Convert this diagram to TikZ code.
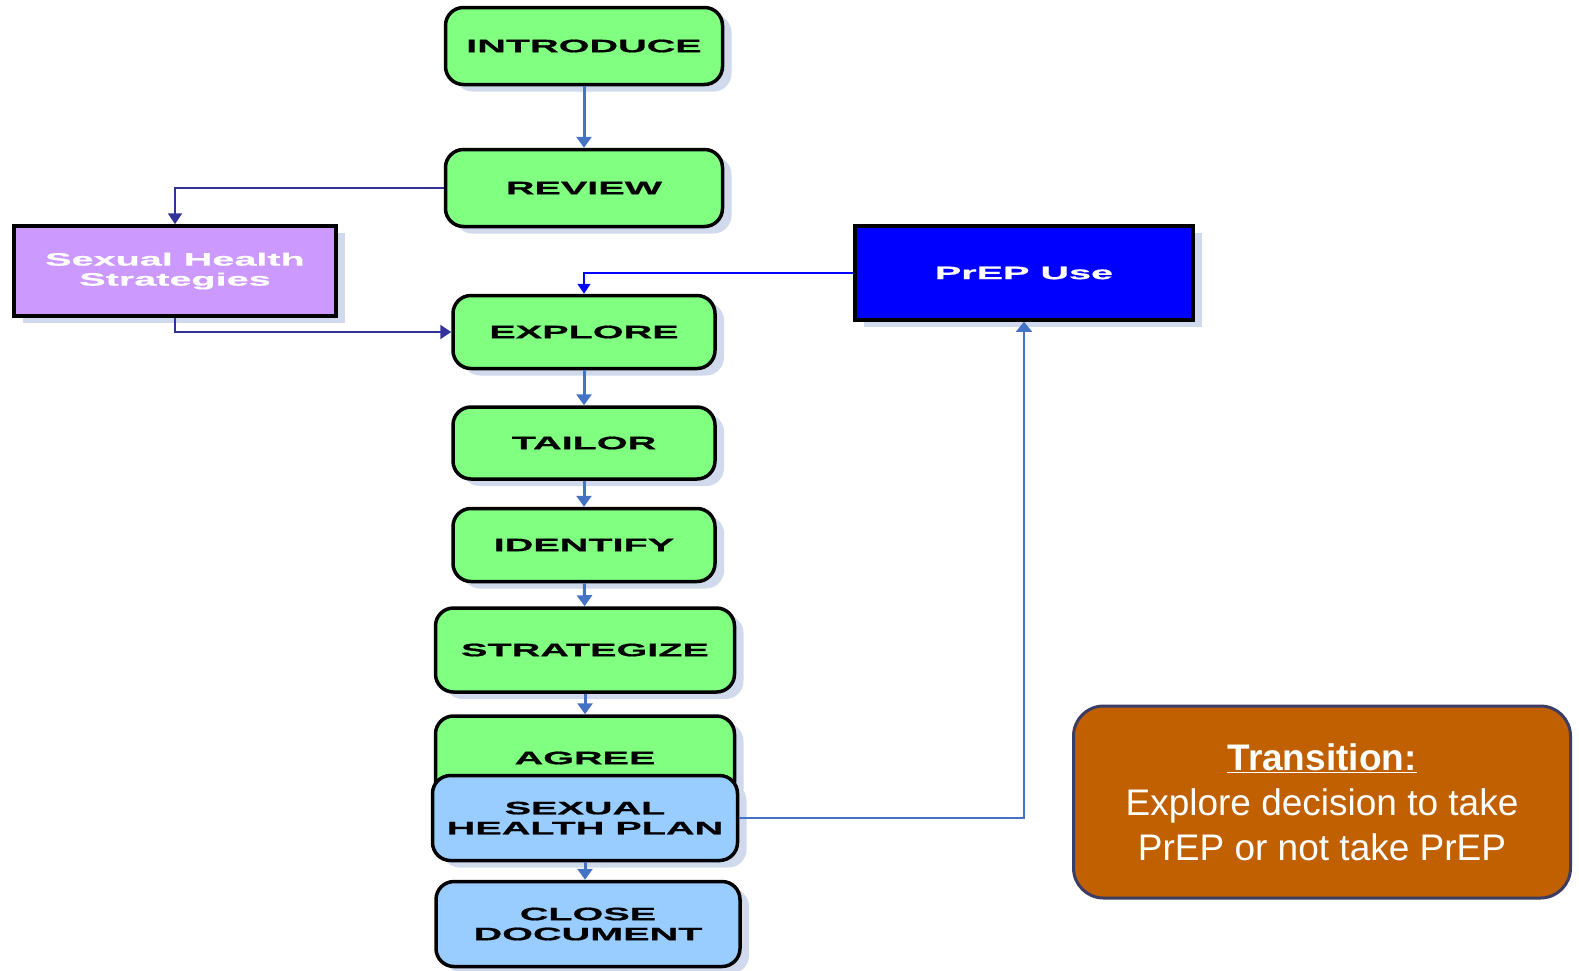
\documentclass[tikz,border=0pt]{standalone}
\usepackage{fontspec}
\setmainfont{Liberation Sans}
\newfontfamily\stepfont[FakeStretch=2.2,FakeBold=0.8]{Liberation Sans Bold}
\usetikzlibrary{arrows.meta,shadows}

\definecolor{stepgreen}{RGB}{128,255,128}
\definecolor{planblue}{RGB}{153,204,255}
\definecolor{lilac}{RGB}{204,153,255}
\definecolor{prepblue}{RGB}{0,0,255}
\definecolor{shadowblue}{RGB}{208,218,236}
\definecolor{arrowblue}{RGB}{68,114,196}
\definecolor{navy}{RGB}{51,51,153}
\definecolor{rust}{RGB}{192,96,0}
\definecolor{slate}{RGB}{60,60,100}

\begin{document}
\begin{tikzpicture}[x=1pt,y=-1pt,
    box/.style={draw=black,line width=3.5pt,inner sep=0pt,align=center,
        font=\stepfont\fontsize{18}{20}\selectfont,
        drop shadow={shadow xshift=9pt,shadow yshift=-7pt,fill=shadowblue,opacity=1}},
    green node/.style={box,rounded corners=18pt,fill=stepgreen},
    plan node/.style={box,rounded corners=18pt,fill=planblue},
    flow/.style={arrowblue,line width=3pt,-{Triangle[width=15pt,length=11pt]}}]
    \useasboundingbox (0,0) rectangle (1579,970);

    \node[green node,minimum width=277,minimum height=77] at (584,46) (introduce) {INTRODUCE};
    \node[green node,minimum width=277,minimum height=77] at (584,188) (review) {REVIEW};
    \node[box,fill=lilac,text=white,minimum width=322,minimum height=90] at (175,271) (shs) {Sexual Health\\Strategies};
    \node[box,fill=prepblue,text=white,minimum width=338,minimum height=94] at (1024,273) (prep) {PrEP Use};
    \node[green node,minimum width=262,minimum height=73] at (584,332) (explore) {EXPLORE};
    \node[green node,minimum width=262,minimum height=72] at (584,443) (tailor) {TAILOR};
    \node[green node,minimum width=262,minimum height=73] at (584,545) (identify) {IDENTIFY};
    \node[green node,minimum width=299,minimum height=84] at (585,650) (strategize) {STRATEGIZE};
    \node[green node,minimum width=299,minimum height=84] at (585,758) (agree) {AGREE};
    \node[plan node,minimum width=305,minimum height=85] at (585,818) (shp) {SEXUAL\\HEALTH PLAN};
    \node[plan node,minimum width=304,minimum height=85] at (588,924) (close) {CLOSE\\DOCUMENT};

    \node[draw=slate,line width=3pt,fill=rust,rounded corners=30pt,text=white,
        minimum width=497,minimum height=192,align=center,
        font=\fontsize{37}{45}\selectfont] at (1322,802) (transition)
        {\textbf{\underline{Transition:}}\\Explore decision to take\\PrEP or not take PrEP};

    % main sequence
    \draw[flow] (introduce) -- (review);
    \draw[flow] (explore) -- (tailor);
    \draw[flow] (tailor) -- (identify);
    \draw[flow] (identify) -- (strategize);
    \draw[flow] (strategize) -- (agree);
    \draw[flow] (shp.south) -- (close.north -| shp.south);

    % side branches
    \draw[navy,line width=2pt,-{Triangle[width=14pt,length=11pt]}] (review.west) -| (shs.north);
    \draw[navy,line width=2pt,-{Triangle[width=14pt,length=11pt]}] (shs.south) |- (explore.west);
    \draw[prepblue,line width=1.5pt,-{Triangle[width=13pt,length=10pt]}] (prep.west) -| (explore.north);
    \draw[arrowblue,line width=1.5pt,-{Triangle[width=16pt,length=10pt]}] (shp.east) -| (prep.south);
\end{tikzpicture}
\end{document}
